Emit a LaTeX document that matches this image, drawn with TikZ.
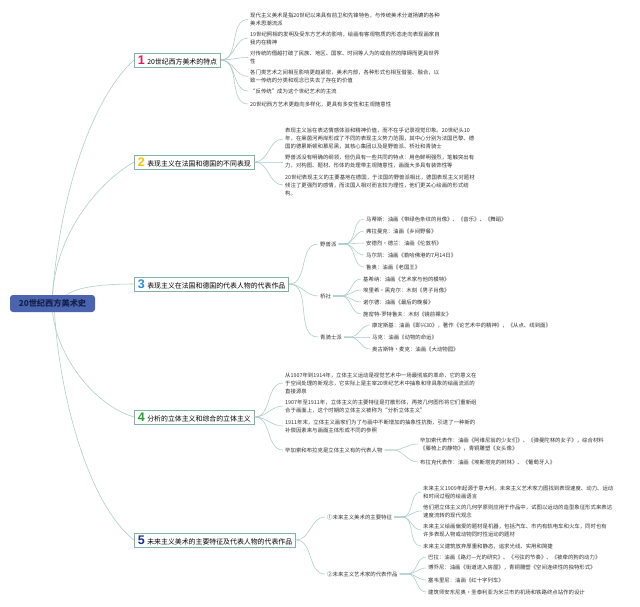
\documentclass[tikz,border=0pt]{standalone}
\usepackage{fontspec}
\newfontfamily\cjk{Noto Sans CJK SC}
\newfontfamily\numf{Liberation Sans}
\definecolor{linec}{HTML}{A9CCC5}
\definecolor{boxc}{HTML}{7FB3A2}
\definecolor{rootc}{HTML}{4A64B0}
\definecolor{roottxt}{HTML}{15204A}
\definecolor{txtc}{HTML}{333333}
\definecolor{nA}{HTML}{D81F4F}
\definecolor{nB}{HTML}{F5C400}
\definecolor{nC}{HTML}{2B8AD4}
\definecolor{nD}{HTML}{26A12E}
\definecolor{nE}{HTML}{1E2E86}
\tikzset{
  conn/.style={draw=linec, line width=0.55pt},
  itemtext/.style={anchor=west, align=left, inner xsep=2pt, inner ysep=0.5pt, text=txtc, font=\cjk\fontsize{5.4}{8}\selectfont},
  branchbox/.style={draw=boxc, line width=0.7pt, fill=white, anchor=west, minimum height=14pt, inner xsep=3.5pt, inner ysep=0pt, text=black, font=\cjk\fontsize{6.9}{8}\selectfont},
  rootbox/.style={fill=rootc, rounded corners=3pt, minimum width=85pt, minimum height=17pt, inner sep=0pt, text=roottxt, font=\cjk\bfseries\fontsize{8.2}{9}\selectfont}
}
\newcommand{\bnum}[2]{{\numf\bfseries\fontsize{12.5}{12}\selectfont\color{#1}#2}\hspace{2.5pt}}
\begin{document}
\begin{tikzpicture}[x=1pt,y=-1pt]
\fill[white] (0,0) rectangle (640,607);
\useasboundingbox (0,0) rectangle (640,607);

% root
\node[rootbox] (root) at (52.5,303.5) {20世纪西方美术史};

% branch boxes
\node[branchbox] (B1) at (134,60) {\bnum{nA}{1}20世纪西方美术的特点};
\node[branchbox] (B2) at (134,162) {\bnum{nB}{2}表现主义在法国和德国的不同表现};
\node[branchbox] (B3) at (134,284) {\bnum{nC}{3}表现主义在法国和德国的代表人物的代表作品};
\node[branchbox] (B4) at (134,417) {\bnum{nD}{4}分析的立体主义和综合的立体主义};
\node[branchbox] (B5) at (134,540) {\bnum{nE}{5}未来主义美术的主要特征及代表人物的代表作品};

% root connectors
\draw[conn] (root.north) .. controls +(7,-95) and +(-44,40) .. (B1.west);
\draw[conn] (root.north) .. controls +(4,-60) and +(-38,22) .. (B2.west);
\draw[conn] ([xshift=14pt]root.north) .. controls +(12,-8) and +(-32,0) .. (B3.west);
\draw[conn] (root.south) .. controls +(5,45) and +(-40,-12) .. (B4.west);
\draw[conn] ([xshift=2pt]root.south) .. controls +(5,85) and +(-45,-35) .. (B5.west);

% branch 1 items
\node[itemtext] (b1a) at (248,19.5) {现代主义美术是指20世纪以来具有前卫和先锋特色，与传统美术分道扬镳的各种\\美术思潮流派};
\node[itemtext] (b1b) at (248,38) {19世纪照相的发明及受东方艺术的影响，绘画有客观物质的形态走向表现画家自\\我内在精神};
\node[itemtext] (b1c) at (248,57.5) {对传统的僭越打破了民族、地区、国家、时间等人为的或自然的障碍而更具世界\\性};
\node[itemtext] (b1d) at (248,76.5) {各门类艺术之间相互影响更趋紧密，美术内部，各种形式也相互借鉴、融合，以\\致一传统的分类和观念已失去了存在的价值};
\node[itemtext] (b1e) at (248,91) {“反传统”成为这个世纪艺术的主流};
\node[itemtext] (b1f) at (248,104) {20世纪西方艺术更趋向多样化，更具有多变性和主观随意性};
\foreach \c in {b1a,b1b,b1c,b1d,b1e,b1f}
  \draw[conn] (B1.east) to[out=0,in=180] (\c.west);

% branch 2 items
\node[itemtext] (b2a) at (283,139) {表现主义旨在表达情感体验和精神价值，而不在乎记录视觉印象。20世纪头10\\年，在莱茵河两岸形成了不同的表现主义势力范围，其中心分别为法国巴黎、德\\国的德累斯顿和慕尼黑，其核心集团以及是野兽派、桥社和青骑士};
\node[itemtext] (b2b) at (283,162) {野兽派没有明确的纲领，但仍具有一些共同的特点：用色鲜明强烈，笔触突出有\\力，对构图、题材、形体的处理带主观随意性，画面大多具有装饰性等};
\node[itemtext] (b2c) at (283,185) {20世纪表现主义的主要基地在德国，于法国的野兽派相比，德国表现主义对题材\\倾注了更强烈的感情，而法国人相对而言较为理性，他们更关心绘画的形式结\\构。};
\foreach \c in {b2a,b2b,b2c}
  \draw[conn] (B2.east) to[out=0,in=180] (\c.west);

% branch 3 groups
\node[itemtext] (g1) at (318,244) {野兽派};
\node[itemtext] (g2) at (318,296) {桥社};
\node[itemtext] (g3) at (318,337) {青骑士派};
\foreach \c in {g1,g2,g3}
  \draw[conn] (B3.east) to[out=0,in=180] (\c.west);

\node[itemtext] (g1a) at (364,219) {马蒂斯：油画《带绿色条纹的肖像》、《音乐》、《舞蹈》};
\node[itemtext] (g1b) at (364,231) {弗拉曼克：油画《乡间野餐》};
\node[itemtext] (g1c) at (364,243) {安德烈·德兰：油画《伦敦桥》};
\node[itemtext] (g1d) at (364,255) {马尔凯：油画《勒哈佛港的7月14日》};
\node[itemtext] (g1e) at (364,267) {鲁奥：油画《老国王》};
\foreach \c in {g1a,g1b,g1c,g1d,g1e}
  \draw[conn] (g1.east) -- ++(6,0) to[out=0,in=180] (\c.west);

\node[itemtext] (g2a) at (361,279) {基希纳：油画《艺术家与他的模特》};
\node[itemtext] (g2b) at (361,290) {埃里希·黑克尔：木刻《男子肖像》};
\node[itemtext] (g2c) at (361,302) {诺尔德：油画《最后的晚餐》};
\node[itemtext] (g2d) at (361,314) {施密特-罗特鲁夫：木刻《镜前裸女》};
\foreach \c in {g2a,g2b,g2c,g2d}
  \draw[conn] (g2.east) -- ++(8,0) to[out=0,in=180] (\c.west);

\node[itemtext] (g3a) at (370,325) {康定斯基：油画《即兴30》，著作《论艺术中的精神》，《从点、线到面》};
\node[itemtext] (g3b) at (370,337) {马克：油画《动物的命运》};
\node[itemtext] (g3c) at (370,349) {奥古斯特·麦克：油画《大动物园》};
\foreach \c in {g3a,g3b,g3c}
  \draw[conn] (g3.east) -- ++(6,0) to[out=0,in=180] (\c.west);

% branch 4 items
\node[itemtext] (b4a) at (283,383) {从1907年到1914年，立体主义运动是视觉艺术中一场最彻底的革命，它的意义在\\于空间处理的新观念，它实际上是主宰20世纪艺术中抽象和非具象的绘画流派的\\直接源泉};
\node[itemtext] (b4b) at (283,406) {1907年至1911年，立体主义的主要特征是打散形体，再按几何图形将它们重新组\\合于画面上，这个时期的立体主义被称为“分析立体主义”};
\node[itemtext] (b4c) at (283,426) {1911年末，立体主义画家们为了与画中不断增加的抽象性抗衡，引进了一种新的\\补偿因素来与画面主体形成不同的参照};
\node[itemtext] (b4d) at (283,450) {毕加索和布拉克是立体主义有的代表人物};
\foreach \c in {b4a,b4b,b4c,b4d}
  \draw[conn] (B4.east) to[out=0,in=180] (\c.west);

\node[itemtext] (b4d1) at (418,444) {毕加索代表作：油画《阿维尼翁的少女们》、《弹曼陀林的女子》，综合材料\\《藤椅上的静物》，青铜雕塑《女头像》};
\node[itemtext] (b4d2) at (418,462) {布拉克代表作：油画《埃斯塔克的树林》、《葡萄牙人》};
\foreach \c in {b4d1,b4d2}
  \draw[conn] (b4d.east) -- ++(8,0) to[out=0,in=180] (\c.west);

% branch 5
\node[itemtext] (f1) at (325,517) {①未来主义美术的主要特征};
\node[itemtext] (f2) at (325,574) {②未来主义艺术家的代表作品};
\foreach \c in {f1,f2}
  \draw[conn] (B5.east) to[out=0,in=180] (\c.west);

\node[itemtext] (f1a) at (421,492) {未来主义1909年起源于意大利。未来主义艺术家力图找到表现速度、动力、运动\\和时间过程的绘画语言};
\node[itemtext] (f1b) at (421,511) {他们把立体主义的几何学原则应用于作品中，试图以运动的造型象征形式来表达\\速度流转的现代观念};
\node[itemtext] (f1c) at (421,530) {未来主义绘画偏爱的题材是机器，包括汽车、市内有轨电车和火车，同时也有\\许多表现人物或动物同时性运动的题材};
\node[itemtext] (f1d) at (421,546) {未来主义建筑放弃厚重和静态，追求光线、实用和简捷};
\foreach \c in {f1a,f1b,f1c,f1d}
  \draw[conn] (f1.east) -- ++(8,0) to[out=0,in=180] (\c.west);

\node[itemtext] (f2a) at (426,557) {巴拉：油画《路灯—光的研究》、《弓弦的节奏》、《被牵的狗的动力》};
\node[itemtext] (f2b) at (426,568) {博乔尼：油画《街道进入房屋》，青铜雕塑《空间连续性的独特形式》};
\node[itemtext] (f2c) at (426,580) {塞韦里尼：油画《红十字列车》};
\node[itemtext] (f2d) at (426,592) {建筑师安东尼奥·圣泰利亚为米兰市的机场和铁路终点站作的设计};
\foreach \c in {f2a,f2b,f2c,f2d}
  \draw[conn] (f2.east) -- ++(8,0) to[out=0,in=180] (\c.west);
\end{tikzpicture}
\end{document}
